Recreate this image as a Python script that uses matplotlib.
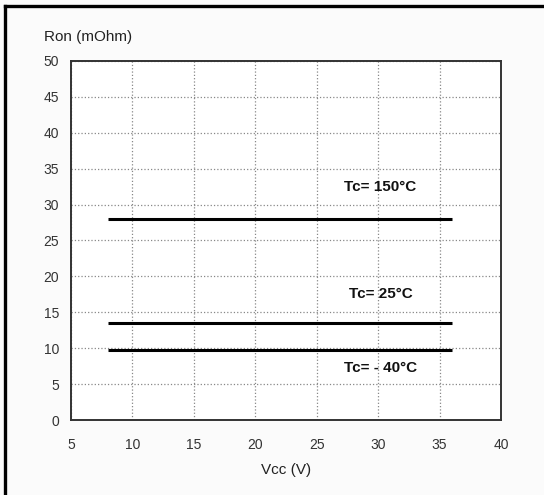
import matplotlib.pyplot as plt
from matplotlib.lines import Line2D

# temperature curves: Ron is flat over Vcc
temps = ['Tc= 150°C', 'Tc= 25°C', 'Tc= - 40°C']
vcc_range = [8, 36]
ron_values = [28, 13.5, 9.8]
label_x = [30.2, 30.2, 30.2]
label_y = [32.4, 17.5, 7.2]

x_ticks = [5, 10, 15, 20, 25, 30, 35, 40]
y_ticks = [0, 5, 10, 15, 20, 25, 30, 35, 40, 45, 50]

plt.rcParams['font.family'] = ['Liberation Sans', 'DejaVu Sans']

fig = plt.figure(figsize=(5.44, 4.95), dpi=100)
fig.patch.set_facecolor('#fbfbfb')
ax = fig.add_axes([0.1305, 0.1515, 0.7904, 0.7253])

for ron, name, lx, ly in zip(ron_values, temps, label_x, label_y):
    ax.plot(vcc_range, [ron, ron], color='black', lw=2.2, solid_capstyle='butt')
    ax.text(lx, ly, name, ha='center', va='center', fontsize=11,
            fontweight='bold', color='#111111')

ax.set_xlim(5, 40)
ax.set_ylim(0, 50)
ax.set_xticks(x_ticks)
ax.set_yticks(y_ticks)
ax.tick_params(length=0, labelsize=10, colors='#333333')
ax.tick_params(axis='x', pad=13)
ax.tick_params(axis='y', pad=8.5)
ax.grid(True, color='#888888', linestyle=':', linewidth=0.9)
ax.set_axisbelow(True)
for s in ax.spines.values():
    s.set_color('#333333')
    s.set_linewidth(1.4)

ax.set_xlabel('Vcc (V)', fontsize=11, color='#222222', labelpad=8)
fig.text(44 / 544, 1 - 37 / 495, 'Ron (mOhm)', fontsize=11, color='#222222',
         ha='left', va='center')

# outer frame of the datasheet figure
fig.add_artist(Line2D([5 / 544, 1], [1 - 6 / 495, 1 - 6 / 495],
                      transform=fig.transFigure, color='black', lw=2.4))
fig.add_artist(Line2D([5 / 544, 5 / 544], [0, 1 - 6 / 495],
                      transform=fig.transFigure, color='black', lw=2.4))

fig.savefig('out.png', dpi=100, facecolor=fig.get_facecolor())
